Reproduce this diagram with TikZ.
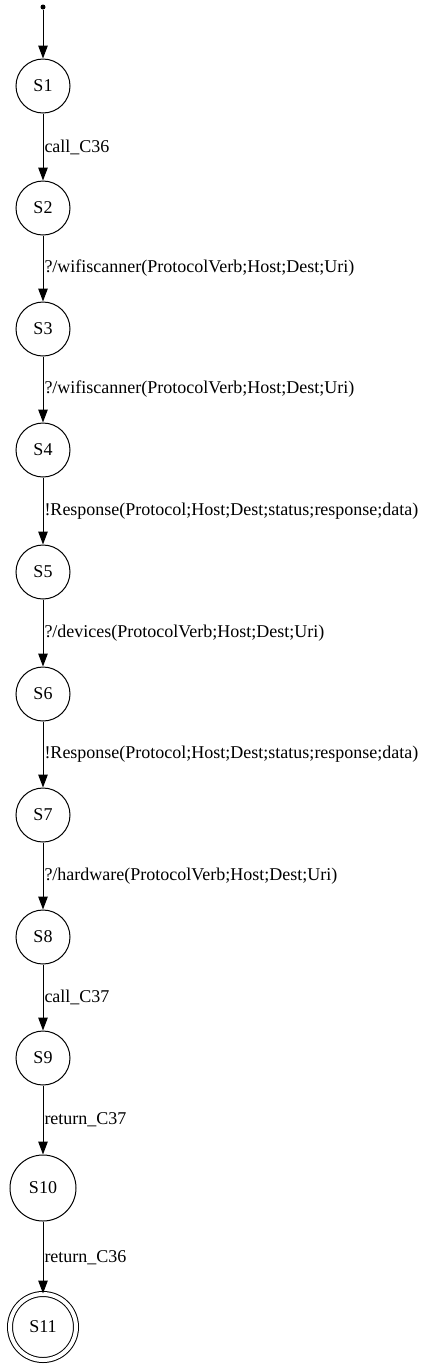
\documentclass[tikz,border=0pt]{standalone}
\usepackage{fontspec}
\setmainfont{Liberation Serif}
\usetikzlibrary{arrows.meta}
\begin{document}
\begin{tikzpicture}[x=1pt,y=-1pt,
  state/.style={draw,circle,line width=1pt,minimum size=54pt,inner sep=0pt,font=\fontsize{18}{20}\selectfont},
  trans/.style={-{Triangle[length=13pt,width=9.5pt]},line width=1pt},
  lbl/.style={right,inner sep=1pt,font=\fontsize{18}{20}\selectfont}]
\useasboundingbox (0,0) rectangle (424,1371);
\node[circle,fill,inner sep=0pt,minimum size=5pt] (start) at (43,7) {};
\node[state] (s1) at (43,86) {S1};
\node[state] (s2) at (43,208) {S2};
\node[state] (s3) at (43,329) {S3};
\node[state] (s4) at (43,450) {S4};
\node[state] (s5) at (43,572) {S5};
\node[state] (s6) at (43,694) {S6};
\node[state] (s7) at (43,815) {S7};
\node[state] (s8) at (43,937) {S8};
\node[state] (s9) at (43,1058) {S9};
\node[state,minimum size=66pt] (s10) at (43,1188) {S10};
\node[state,minimum size=66pt,double,double distance=4pt] (s11) at (43,1327) {S11};
\draw[trans] (start) -- (s1);
\draw[trans] (s1) -- node[lbl] {call\_C36} (s2);
\draw[trans] (s2) -- node[lbl] {?/wifiscanner(ProtocolVerb;Host;Dest;Uri)} (s3);
\draw[trans] (s3) -- node[lbl] {?/wifiscanner(ProtocolVerb;Host;Dest;Uri)} (s4);
\draw[trans] (s4) -- node[lbl] {!Response(Protocol;Host;Dest;status;response;data)} (s5);
\draw[trans] (s5) -- node[lbl] {?/devices(ProtocolVerb;Host;Dest;Uri)} (s6);
\draw[trans] (s6) -- node[lbl] {!Response(Protocol;Host;Dest;status;response;data)} (s7);
\draw[trans] (s7) -- node[lbl] {?/hardware(ProtocolVerb;Host;Dest;Uri)} (s8);
\draw[trans] (s8) -- node[lbl] {call\_C37} (s9);
\draw[trans] (s9) -- node[lbl] {return\_C37} (s10);
\draw[trans] (s10) -- node[lbl] {return\_C36} (s11.north);
\end{tikzpicture}
\end{document}
